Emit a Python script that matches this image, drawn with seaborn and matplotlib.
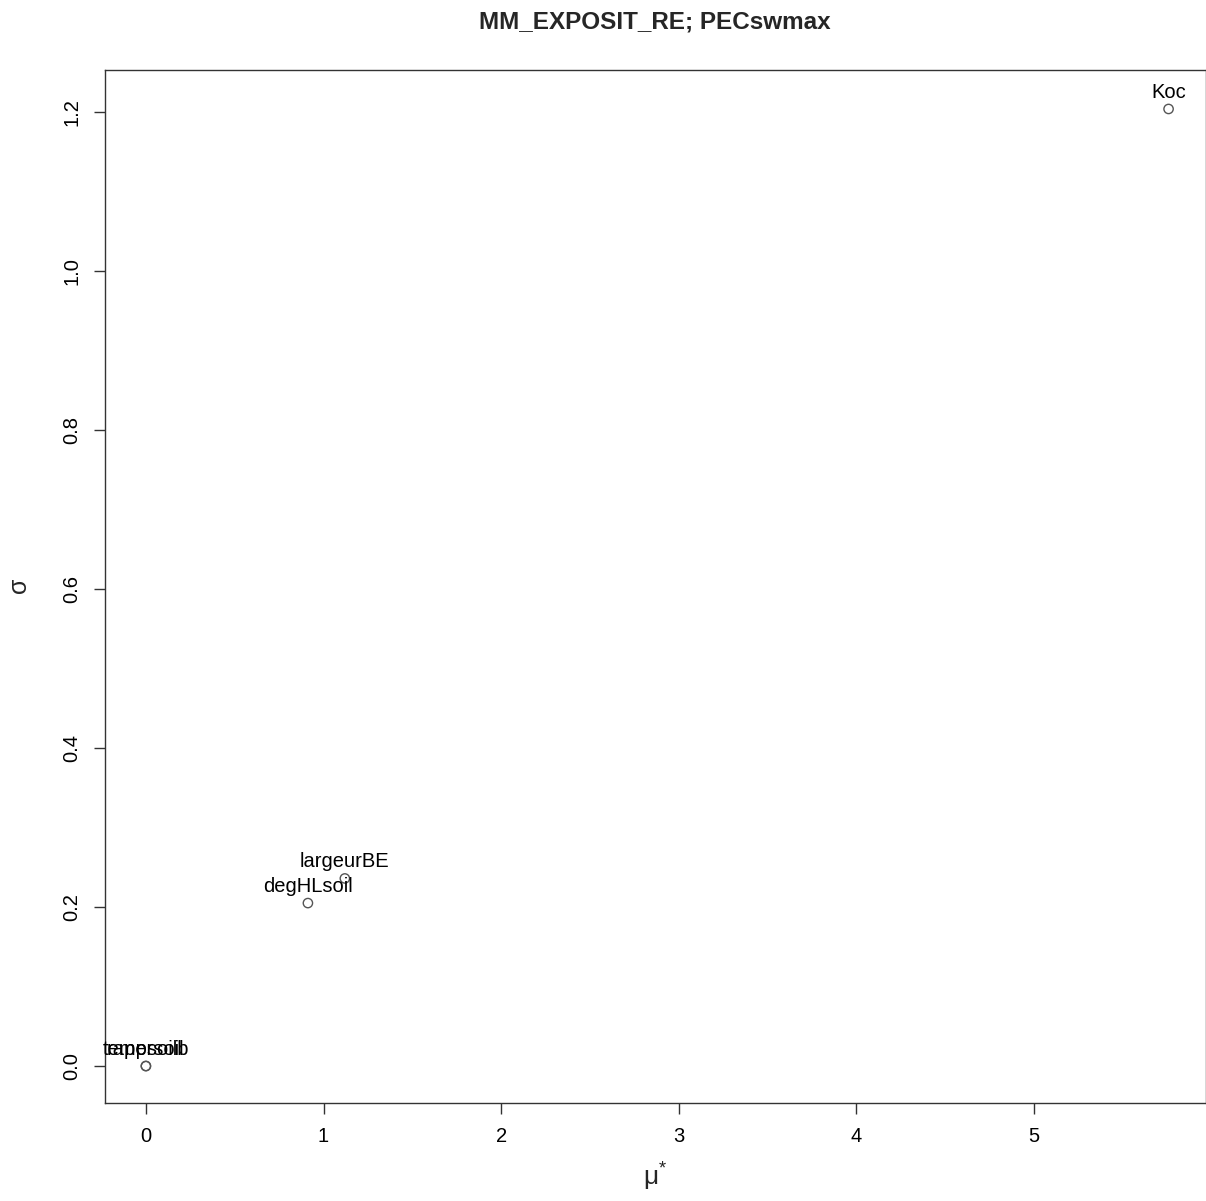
import seaborn as sns
import matplotlib.pyplot as plt
import pandas as pd

# morris results
params = ["rapersoil", "tempsoilb", "degHLsoil", "largeurBE", "Koc"]
mu_star = [0.0, 0.0, 0.912, 1.12, 5.757]
sigma = [0.0, 0.0, 0.205, 0.236, 1.204]

df = pd.DataFrame({"param": params, "mu_star": mu_star, "sigma": sigma})

sns.set_style("white")
plt.rcParams['font.family'] = ['Liberation Sans', 'DejaVu Sans']
plt.rcParams['mathtext.fontset'] = 'custom'
plt.rcParams['mathtext.rm'] = 'Liberation Sans'

fig = plt.figure(figsize=(12.06, 12.01), dpi=100)
ax = fig.add_axes([0.0871, 0.0816, 0.9125, 0.8601])

sns.scatterplot(data=df, x="mu_star", y="sigma", ax=ax, s=45,
                facecolor="none", edgecolor="#555555", linewidth=1.0, marker="o")

for _, row in df.iterrows():
    ax.annotate(row["param"], (row["mu_star"], row["sigma"]), xytext=(0, 5),
                textcoords="offset points", ha="center", va="bottom",
                fontsize=14.5, color="black")

ax.set_xlim(-0.23, 5.965)
ax.set_ylim(-0.0465, 1.253)
ax.set_xticks([0, 1, 2, 3, 4, 5])
ax.set_yticks([0.0, 0.2, 0.4, 0.6, 0.8, 1.0, 1.2])
ax.set_yticklabels(["0.0", "0.2", "0.4", "0.6", "0.8", "1.0", "1.2"], rotation=90, va="center")
ax.tick_params(axis="both", direction="out", length=8, width=1, labelsize=14.5,
               bottom=True, left=True, pad=9, colors="#333333", labelcolor="black")
for sp in ax.spines.values():
    sp.set_color("#333333")
    sp.set_linewidth(1.0)

ax.set_xlabel(r"$\mathrm{\mu}^{*}$", fontsize=19, labelpad=10)
ax.set_ylabel(r"$\mathrm{\sigma}$", fontsize=18, labelpad=22)
ax.set_title("MM_EXPOSIT_RE; PECswmax", fontsize=17.5, fontweight="bold", pad=30)

fig.savefig("out.png", dpi=100)
